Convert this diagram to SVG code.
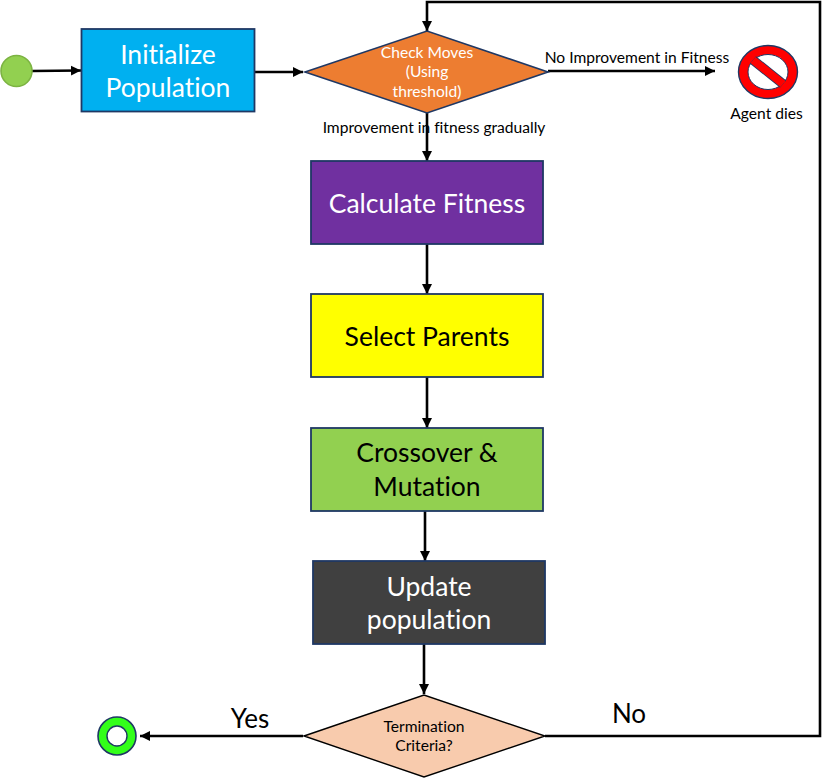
<svg xmlns="http://www.w3.org/2000/svg" width="822" height="779" viewBox="0 0 822 779">
<style>
text{font-family:"Lato","Open Sans","Liberation Sans",sans-serif;text-anchor:middle;font-variant-ligatures:none}
.big{font-size:26.500px}
.lbl{font-size:15.600px;fill:#000}
.w{fill:#fff}
.box{stroke:#1f3864;stroke-width:1.8}
.c{fill:none;stroke:#000;stroke-width:2.6}
</style>
<defs><marker id="a" markerUnits="userSpaceOnUse" markerWidth="11" markerHeight="11" refX="10" refY="5.500" orient="auto"><path d="M0 0.500L10 5.500L0 10.500Z" fill="#000"/></marker></defs>
<rect width="822" height="779" fill="#fff"/>
<g id="connectors">
<path class="c" marker-end="url(#a)" d="M32 71L81 70.500"/>
<path class="c" marker-end="url(#a)" d="M254 72L303 72"/>
<path class="c" marker-end="url(#a)" d="M548 71L715 71"/>
<path class="c" marker-end="url(#a)" d="M427 113L427 161"/>
<path class="c" marker-end="url(#a)" d="M427 244L427 294"/>
<path class="c" marker-end="url(#a)" d="M427 377L427 428"/>
<path class="c" marker-end="url(#a)" d="M425 511L425 561"/>
<path class="c" marker-end="url(#a)" d="M424 644L424 694"/>
<path class="c" marker-end="url(#a)" d="M303 736L140 736"/>
<path class="c" marker-end="url(#a)" d="M545 736L820 736L820 2L427 2L427 31"/>
</g>
<g id="start"><circle cx="16.500" cy="71" r="15.500" fill="#92d050" stroke="#7cb342" stroke-width="1.600"/></g>
<g id="init"><rect class="box" x="81.500" y="29" width="173" height="82.500" fill="#00b0f0"/><text class="big w" x="168" y="64">Initialize</text><text class="big w" x="168" y="97">Population</text></g>
<g id="check"><path d="M305 72L427 31L548 72L427 113Z" fill="#ed7d31" stroke="#1f3864" stroke-width="1.600"/><text class="lbl w" x="427" y="58">Check Moves</text><text class="lbl w" x="427" y="77">(Using</text><text class="lbl w" x="427" y="97">threshold)</text></g>
<text class="lbl" x="637" y="63">No Improvement in Fitness</text>
<text class="lbl" x="434" y="133">Improvement in fitness gradually</text>
<g id="dies"><ellipse cx="768" cy="72" rx="29.500" ry="26.500" fill="#f00" stroke="#1f3864" stroke-width="1.400"/><ellipse cx="768" cy="72" rx="20" ry="17.500" fill="#fff" stroke="#1f3864" stroke-width="1"/><path d="M753 60L783 84" stroke="#1f3864" stroke-width="9.500"/><path d="M753 60L783 84" stroke="#f00" stroke-width="8"/><text class="lbl" x="766.500" y="119">Agent dies</text></g>
<g id="fitness"><rect class="box" x="311" y="161" width="232" height="83" fill="#7030a0"/><text class="big w" x="427" y="213">Calculate Fitness</text></g>
<g id="parents"><rect class="box" x="311" y="294" width="232" height="83" fill="#ff0"/><text class="big" x="427" y="346">Select Parents</text></g>
<g id="crossover"><rect class="box" x="311" y="428" width="232" height="83" fill="#92d050"/><text class="big" x="427" y="462">Crossover &amp;</text><text class="big" x="427" y="496">Mutation</text></g>
<g id="update"><rect class="box" x="313" y="561" width="232" height="83" fill="#404040"/><text class="big w" x="429" y="596">Update</text><text class="big w" x="429" y="629">population</text></g>
<g id="term"><path d="M304 736L424 695L545 736L424 777Z" fill="#f8cbad" stroke="#000" stroke-width="1.400"/><text class="lbl" x="424" y="732">Termination</text><text class="lbl" x="424" y="751">Criteria?</text></g>
<g id="end"><circle cx="117" cy="736" r="19" fill="#33ff1a" stroke="#1f3864" stroke-width="1.600"/><circle cx="117" cy="736" r="10" fill="#fff" stroke="#1f3864" stroke-width="1.400"/></g>
<text x="250" y="728" style="font-size:26px">Yes</text>
<text x="629" y="723" style="font-size:26px">No</text>
</svg>
